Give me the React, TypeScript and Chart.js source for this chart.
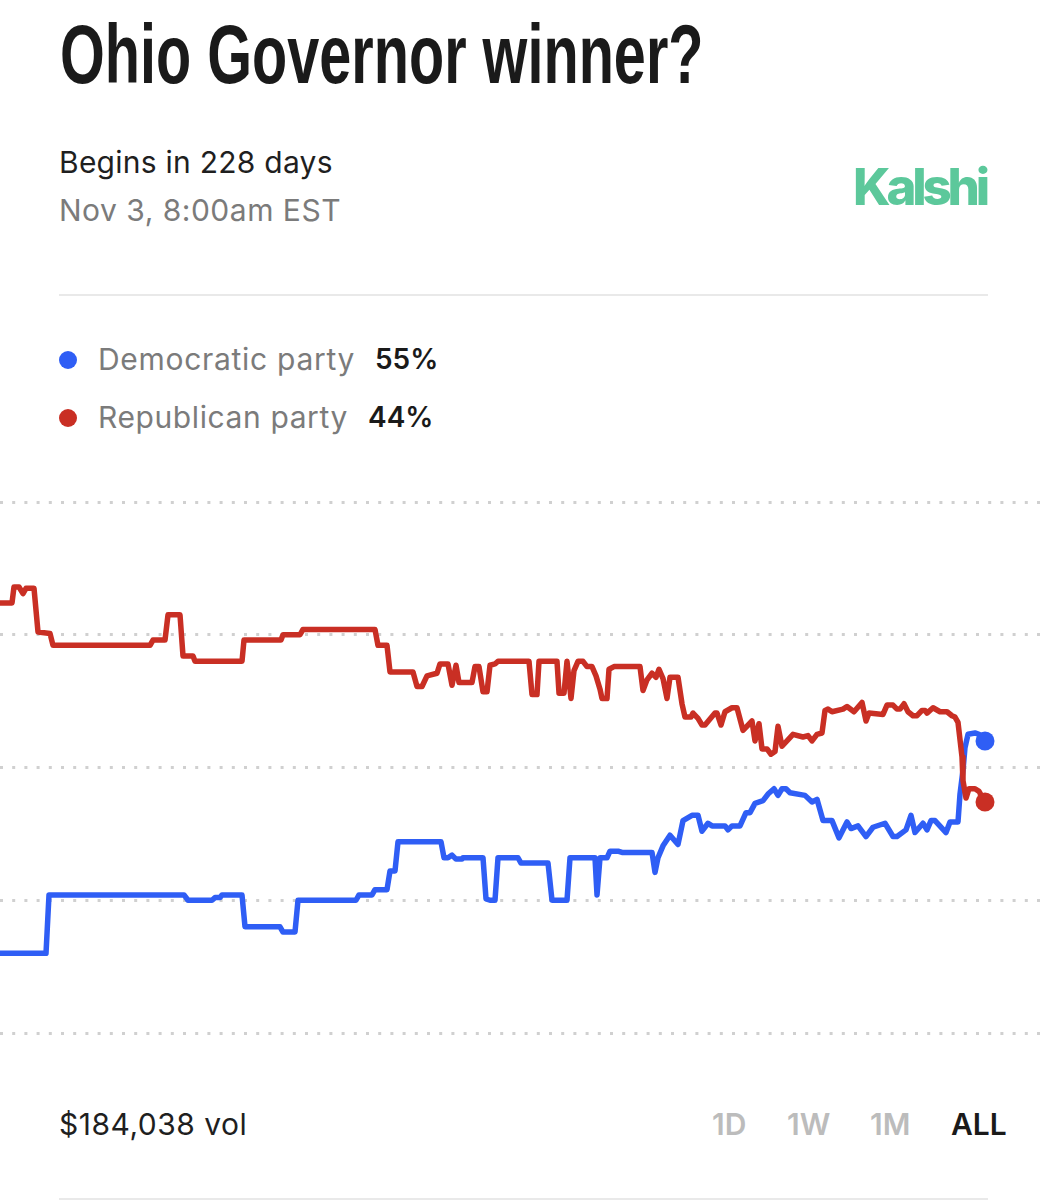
import { useEffect, useRef } from 'react';
import { Chart, registerables } from 'chart.js';

Chart.register(...registerables);

// time axis is in arbitrary steps across the visible range, values are chance in %
const demTimes = [
  0, 4.6, 4.9, 18.4, 18.8, 21.2, 21.5, 22.0, 22.2, 24.2, 24.5, 28.0, 28.3, 29.5, 29.8,
  35.6, 35.9, 37.2, 37.5, 38.7, 39.0, 39.5, 39.8, 44.1, 44.4, 44.8, 45.2, 45.6, 46.2, 46.3,
  48.3, 48.6, 49.0, 49.5, 49.8, 51.8, 52.1, 54.8, 55.2, 56.7, 57.0, 59.5, 59.7, 60.0, 60.7,
  61.0, 61.8, 62.2, 65.2, 65.5, 65.8, 66.3, 67.0, 67.8, 68.3, 69.2, 69.8, 70.2, 70.8, 71.2,
  72.5, 72.8, 73.2, 74.0, 74.6, 75.0, 75.5, 76.3, 76.8, 77.4, 77.8, 78.2, 78.6, 79.0, 80.5,
  81.2, 81.7, 82.3, 83.2, 83.9, 84.7, 85.1, 85.8, 86.6, 87.3, 88.5, 89.3, 89.7, 90.6, 91.1,
  91.5, 92.3, 92.7, 93.1, 93.5, 94.6, 95.0, 95.8, 96.0, 96.3, 96.5, 96.8, 97.5, 97.9, 98.5,
];
const demValues = [
  36.0, 36.0, 40.4, 40.4, 40.0, 40.0, 40.2, 40.2, 40.4, 40.4, 38.0, 38.0, 37.6, 37.6, 40.0,
  40.0, 40.4, 40.4, 40.8, 40.8, 42.2, 42.2, 44.4, 44.4, 43.2, 43.2, 43.4, 43.1, 43.1, 43.2,
  43.2, 40.1, 40.0, 40.0, 43.2, 43.2, 42.8, 42.8, 40.0, 40.0, 43.2, 43.2, 40.4, 43.2, 43.2,
  43.7, 43.7, 43.6, 43.6, 42.1, 43.2, 44.1, 44.9, 44.2, 46.0, 46.4, 46.4, 45.2, 45.8, 45.6,
  45.6, 45.3, 45.6, 45.6, 46.6, 46.6, 47.3, 47.5, 48.0, 48.4, 47.9, 48.4, 48.4, 48.1, 47.9,
  47.4, 47.6, 46.0, 46.0, 44.7, 45.9, 45.4, 45.6, 44.8, 45.5, 45.8, 44.8, 44.8, 45.3, 46.4,
  45.1, 45.8, 45.3, 46.0, 46.0, 45.1, 45.9, 45.9, 48.0, 49.8, 51.5, 52.5, 52.6, 52.5, 52.0,
];

const repTimes = [
  0, 1.2, 1.4, 1.9, 2.3, 2.6, 3.4, 3.8, 5.0, 5.3, 15.0, 15.3, 16.5, 16.8, 18.0, 18.3, 19.3,
  19.5, 24.2, 24.4, 28.1, 28.3, 30.0, 30.3, 37.5, 37.8, 38.7, 39.0, 41.3, 41.7, 42.2, 42.7,
  43.7, 44.0, 44.8, 45.2, 45.6, 45.9, 47.2, 47.5, 47.9, 48.3, 48.7, 49.0, 49.5, 49.8, 52.9,
  53.2, 53.7, 53.9, 55.7, 55.9, 56.4, 56.7, 57.1, 57.4, 57.8, 58.3, 58.7, 59.2, 59.6, 60.0,
  60.2, 60.7, 60.9, 61.4, 64.0, 64.3, 64.7, 65.2, 65.6, 65.9, 66.3, 66.7, 67.0, 67.8, 68.2,
  68.5, 69.1, 69.3, 69.8, 70.2, 70.5, 71.5, 71.7, 72.1, 72.5, 73.2, 73.7, 74.3, 75.2, 75.5,
  75.9, 76.2, 76.7, 77.1, 77.5, 77.8, 78.2, 79.3, 80.3, 80.8, 81.2, 81.7, 82.2, 82.5, 82.8,
  83.2, 84.3, 84.7, 85.4, 86.2, 86.6, 86.9, 88.3, 88.7, 89.3, 89.7, 90.0, 90.4, 90.8, 91.3,
  91.7, 92.2, 92.5, 92.7, 93.3, 94.0, 94.7, 95.2, 95.5, 95.8, 96.2, 96.3, 96.6, 96.9, 97.5,
  97.9, 98.5,
];
const repValues = [
  62.4, 62.4, 63.6, 63.6, 63.1, 63.5, 63.5, 60.2, 60.1, 59.2, 59.2, 59.6, 59.6, 61.5, 61.5, 58.4, 58.4,
  58.0, 58.0, 59.6, 59.6, 60.0, 60.0, 60.4, 60.4, 59.2, 59.2, 57.2, 57.2, 56.1, 56.1, 56.9,
  57.1, 57.8, 57.8, 56.2, 57.7, 56.4, 56.4, 57.6, 57.6, 55.7, 55.7, 57.7, 57.8, 58.0, 58.0,
  55.5, 55.5, 58.0, 58.0, 55.6, 55.6, 58.0, 55.2, 57.3, 58.0, 58.0, 57.6, 57.6, 56.9, 55.9,
  55.2, 55.2, 57.4, 57.6, 57.6, 55.8, 56.6, 57.1, 56.8, 57.4, 56.7, 55.2, 56.8, 56.8, 54.8,
  53.8, 53.8, 54.1, 53.7, 53.2, 53.2, 54.1, 54.1, 53.2, 54.2, 54.5, 54.5, 52.8, 53.5, 52.0,
  53.3, 51.4, 51.4, 51.0, 51.2, 53.1, 51.6, 52.5, 52.3, 52.4, 52.0, 52.5, 52.6, 54.3, 54.4,
  54.2, 54.4, 54.6, 54.2, 54.9, 53.5, 54.1, 54.0, 54.7, 54.7, 54.4, 54.4, 54.8, 54.2, 53.9,
  53.9, 54.3, 54.3, 54.1, 54.5, 54.2, 54.2, 53.9, 53.8, 53.4, 50.8, 49.0, 47.7, 48.4, 48.4,
  48.2, 47.4,
];

const gridValues = [30, 40, 50, 60, 70];
const ranges = ['1D', '1W', '1M', 'ALL'];

const BLUE = '#2f5ef5';
const RED = '#c92f24';

function zip(times: number[], values: number[]) {
  return times.map((t, i) => ({ x: t, y: values[i] }));
}

function lineDataset(label: string, times: number[], values: number[], color: string) {
  return {
    label,
    data: zip(times, values),
    borderColor: color,
    backgroundColor: color,
    borderWidth: 5.5,
    borderJoinStyle: 'round' as const,
    borderCapStyle: 'round' as const,
    tension: 0,
    clip: false as const,
    pointBorderWidth: 0,
    pointRadius: (ctx: any) => (ctx.dataIndex === times.length - 1 ? 9.5 : 0),
  };
}

function OddsChart() {
  const canvasRef = useRef<HTMLCanvasElement>(null);

  useEffect(() => {
    if (!canvasRef.current) return;
    const chart = new Chart(canvasRef.current, {
      type: 'line',
      data: {
        // first dataset is painted last, red sits on top where they cross
        datasets: [
          lineDataset('Republican party', repTimes, repValues, RED),
          lineDataset('Democratic party', demTimes, demValues, BLUE),
        ],
      },
      options: {
        animation: false,
        responsive: false,
        layout: { autoPadding: false, padding: { top: 22, bottom: 22, left: 0, right: 0 } },
        plugins: { legend: { display: false }, tooltip: { enabled: false } },
        scales: {
          x: { type: 'linear', min: 0, max: 104.7, display: false },
          y: {
            min: 30,
            max: 70,
            afterBuildTicks: (axis: any) => {
              axis.ticks = gridValues.map((value) => ({ value }));
            },
            ticks: { display: false },
            border: { display: false, dash: [3, 9.2] },
            grid: { color: '#d0d0d0', lineWidth: 3, drawTicks: false },
          },
        },
      },
    });
    return () => chart.destroy();
  }, []);

  return <canvas ref={canvasRef} width={1047} height={575} style={{ position: 'absolute', left: 0, top: 480, display: 'block' }} />;
}

const text = (left: number, center: number, size: number, color: string, weight = 400, spacing = 0): React.CSSProperties => ({
  position: 'absolute',
  left,
  top: center - 30,
  height: 60,
  lineHeight: '60px',
  fontSize: size,
  color,
  fontWeight: weight,
  letterSpacing: spacing,
  whiteSpace: 'nowrap',
});

const rangeLefts = [712, 787, 870, 951];

export default function App() {
  return (
    <div style={{ position: 'absolute', left: 0, top: 0, width: 1047, height: 1200, overflow: 'hidden', background: '#fff', fontFamily: 'Inter, sans-serif' }}>
      <div
        style={{
          ...text(60, 54, 84, '#1a1a1a', 700),
          top: 4,
          height: 100,
          lineHeight: '100px',
          fontFamily: '"Liberation Sans", sans-serif',
          transform: 'scaleX(0.686)',
          transformOrigin: 'left center',
        }}
      >
        Ohio Governor winner?
      </div>
      <div style={text(59, 162, 30, '#1f1f1f', 400, 0.25)}>Begins in 228 days</div>
      <div style={text(59, 210, 30, '#7b7b7b', 400, 0.5)}>Nov 3, 8:00am EST</div>
      <div style={text(853, 187, 51, '#5cc89b', 800, -4.2)}>Kalshi</div>
      <div style={{ position: 'absolute', left: 59, top: 294, width: 929, height: 2, background: '#e9e9e9' }} />

      <div style={{ position: 'absolute', left: 59, top: 351, width: 18, height: 18, borderRadius: 9, background: BLUE }} />
      <div style={text(98, 359, 30, '#7b7b7b', 400, 0.7)}>Democratic party</div>
      <div style={text(375, 359, 28, '#1a1a1a', 600)}>55%</div>
      <div style={{ position: 'absolute', left: 59, top: 409, width: 18, height: 18, borderRadius: 9, background: RED }} />
      <div style={text(98, 417, 30, '#7b7b7b', 400, 0.6)}>Republican party</div>
      <div style={text(368, 417, 28, '#1a1a1a', 600)}>44%</div>

      <OddsChart />

      <div style={text(59, 1124, 30, '#1f1f1f', 400, 0.5)}>$184,038 vol</div>
      {ranges.map((r, i) => (
        <div key={r} style={text(rangeLefts[i], 1124, 30, r === 'ALL' ? '#1a1a1a' : '#bcbcbc', 600)}>
          {r}
        </div>
      ))}
      <div style={{ position: 'absolute', left: 59, top: 1198, width: 929, height: 2, background: '#e9e9e9' }} />
    </div>
  );
}
